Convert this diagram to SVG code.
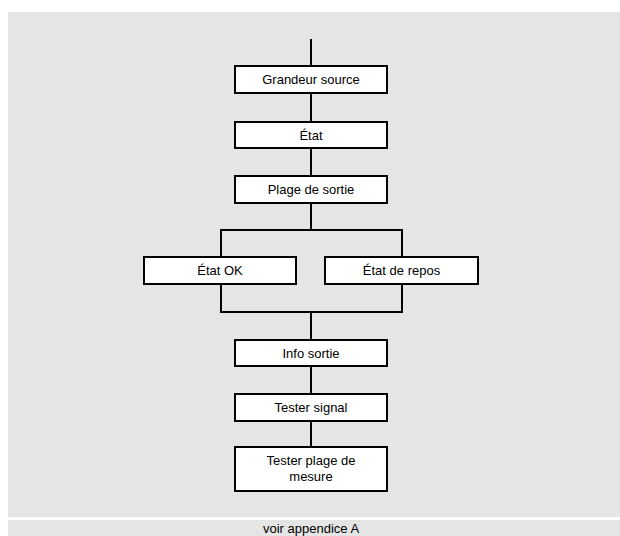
<svg xmlns="http://www.w3.org/2000/svg" width="620" height="536" viewBox="0 0 620 536">
<style>
.bg{fill:#e5e5e5}
.box rect{fill:#fff;stroke:#000;stroke-width:2}
.box text,.foot{font-family:"Liberation Sans",Arial,sans-serif;font-size:13px;fill:#000;text-anchor:middle}
#connectors line{stroke:#000;stroke-width:2}
</style>
<rect width="620" height="536" fill="#fff"/>
<rect class="bg" x="8" y="12" width="612" height="505"/>
<rect class="bg" x="8" y="520" width="612" height="16"/>
<g id="connectors">
<line x1="311" y1="39" x2="311" y2="66"/>
<line x1="311" y1="93" x2="311" y2="122"/>
<line x1="311" y1="148" x2="311" y2="176"/>
<line x1="311" y1="203" x2="311" y2="230"/>
<line x1="220" y1="230" x2="402" y2="230"/>
<line x1="221" y1="229" x2="221" y2="257"/>
<line x1="402" y1="229" x2="402" y2="257"/>
<line x1="221" y1="284" x2="221" y2="313"/>
<line x1="402" y1="284" x2="402" y2="313"/>
<line x1="220" y1="312" x2="403" y2="312"/>
<line x1="311" y1="312" x2="311" y2="340"/>
<line x1="311" y1="366" x2="311" y2="394"/>
<line x1="311" y1="421" x2="311" y2="447"/>
</g>
<g id="n1" class="box"><rect x="235" y="66" width="152" height="27"/><text x="311" y="84">Grandeur source</text></g>
<g id="n2" class="box"><rect x="235" y="122" width="152" height="26"/><text x="311" y="140">État</text></g>
<g id="n3" class="box"><rect x="235" y="176" width="152" height="27"/><text x="311" y="194">Plage de sortie</text></g>
<g id="n4" class="box"><rect x="144" y="257" width="152" height="27"/><text x="220" y="275">État OK</text></g>
<g id="n5" class="box"><rect x="325" y="257" width="153" height="27"/><text x="401.5" y="275">État de repos</text></g>
<g id="n6" class="box"><rect x="235" y="340" width="152" height="26"/><text x="311" y="358">Info sortie</text></g>
<g id="n7" class="box"><rect x="235" y="394" width="152" height="27"/><text x="311" y="412">Tester signal</text></g>
<g id="n8" class="box"><rect x="235" y="447" width="152" height="44"/><text x="311" y="465">Tester plage de</text><text x="311" y="481">mesure</text></g>
<text class="foot" x="311" y="533">voir appendice A</text>
</svg>
